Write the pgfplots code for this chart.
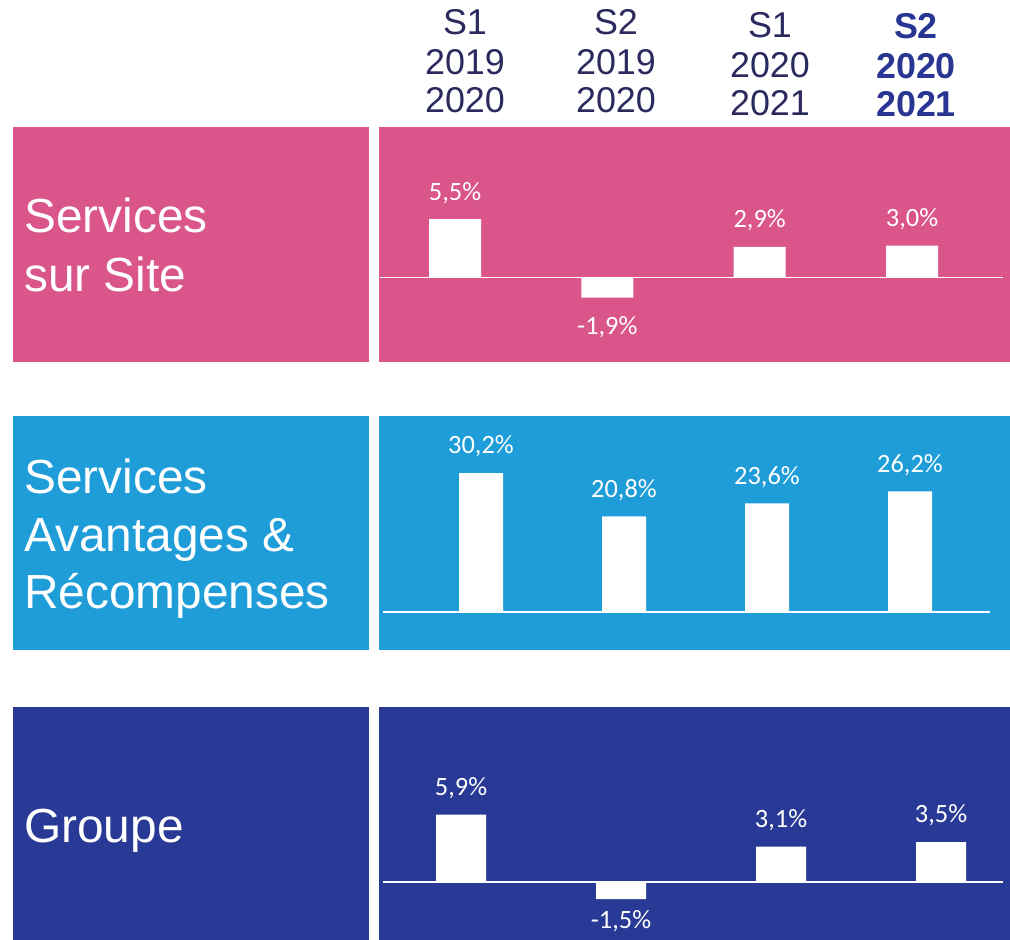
\documentclass[border=0pt]{standalone}
\usepackage{pgfplots}
\pgfplotsset{compat=1.18}
\usepackage{pgfplotstable}
\usepackage{fontspec}
\setmainfont{Liberation Sans}
\newfontfamily\lblfont{Carlito}
\definecolor{cpink}{HTML}{D9558A}
\definecolor{cblue}{HTML}{1E9DD9}
\definecolor{cnavy}{HTML}{293A96}
\definecolor{chead}{HTML}{2B2A5E}
\definecolor{cheadb}{HTML}{283593}

\pgfplotstableread{
x y
0 5.5
1 -1.9
2 2.9
3 3.0
}\tabsite
\pgfplotstableread{
x y
0 30.2
1 20.8
2 23.6
3 26.2
}\tabavant
\pgfplotstableread{
x y
0 5.9
1 -1.5
2 3.1
3 3.5
}\tabgroupe

\pgfplotsset{
  panel/.style={
    scale only axis, anchor=south west,
    axis line style={draw=none}, ticks=none,
    clip=false,
  },
  bars/.style={
    ybar, fill=white, draw=none,
    point meta=y,
    nodes near coords={\pgfmathprintnumber[fixed,fixed zerofill,precision=1,use comma,assume math mode=true]{\pgfplotspointmeta}\%},
    nodes near coords align={vertical},
    every node near coord/.append style={font=\lblfont\fontsize{26.5}{30}\selectfont,
      text=white, inner ysep=19bp, inner xsep=0pt, text depth=0pt},
  },
  baseline/.style={white, line width=1.3bp, forget plot, no markers},
}

\begin{document}
\begin{tikzpicture}
\useasboundingbox (0,0) rectangle (1010bp,940bp);

% left label boxes
\fill[cpink] (13bp,578bp) rectangle (369bp,813bp);
\fill[cblue] (13bp,290bp) rectangle (369bp,524bp);
\fill[cnavy] (13bp,0bp) rectangle (369bp,233bp);

\begin{scope}[every node/.style={anchor=base west, inner sep=0pt, text=white, font=\fontsize{48}{48}\selectfont}]
\node at (24bp,707bp) {Services};
\node at (24bp,648bp) {sur Site};
\node at (24bp,446bp) {Services};
\node at (24bp,388bp) {Avantages \&};
\node at (24bp,331bp) {Récompenses};
\node at (24bp,97bp) {Groupe};
\end{scope}

% column headers
\begin{scope}[every node/.style={anchor=base, inner sep=0pt, text=chead, font=\fontsize{36}{36}\selectfont}]
\node at (465bp,905bp) {S1};
\node at (465bp,865bp) {2019};
\node at (465bp,827bp) {2020};
\node at (616bp,905bp) {S2};
\node at (616bp,865bp) {2019};
\node at (616bp,827bp) {2020};
\node at (770bp,902bp) {S1};
\node at (770bp,862bp) {2020};
\node at (770bp,824bp) {2021};
\end{scope}
\begin{scope}[every node/.style={anchor=base, inner sep=0pt, text=cheadb, font=\bfseries\fontsize{36}{36}\selectfont}]
\node at (916bp,901bp) {S2};
\node at (916bp,861bp) {2020};
\node at (916bp,823bp) {2021};
\end{scope}

% Services sur Site
\begin{axis}[panel, at={(379bp,578bp)}, width=631bp, height=235bp,
  xmin=-0.4989, xmax=3.6434, ymin=-7.97, ymax=14.2,
  axis background/.style={fill=cpink}]
\addplot[baseline] coordinates {(-0.492,0) (3.597,0)};
\addplot[bars, bar width=52bp] table[x=x, y=y]{\tabsite};
\end{axis}

% Services Avantages & Recompenses
\begin{axis}[panel, at={(379bp,290bp)}, width=631bp, height=234bp,
  xmin=-0.7133, xmax=3.6993, ymin=-8.26, ymax=42.61,
  axis background/.style={fill=cblue}]
\addplot[baseline] coordinates {(-0.685,0) (3.559,0)};
\addplot[bars, bar width=44bp] table[x=x, y=y]{\tabavant};
\end{axis}

% Groupe
\begin{axis}[panel, at={(379bp,0bp)}, width=631bp, height=233bp,
  xmin=-0.5125, xmax=3.43125, ymin=-5.088, ymax=15.35,
  axis background/.style={fill=cnavy}]
\addplot[baseline] coordinates {(-0.4875,0) (3.3875,0)};
\addplot[bars, bar width=50bp,
  visualization depends on={y \as \yv},
  every node near coord/.append style={yshift={(\yv<0)*8bp}}] table[x=x, y=y]{\tabgroupe};
\end{axis}
\end{tikzpicture}
\end{document}
